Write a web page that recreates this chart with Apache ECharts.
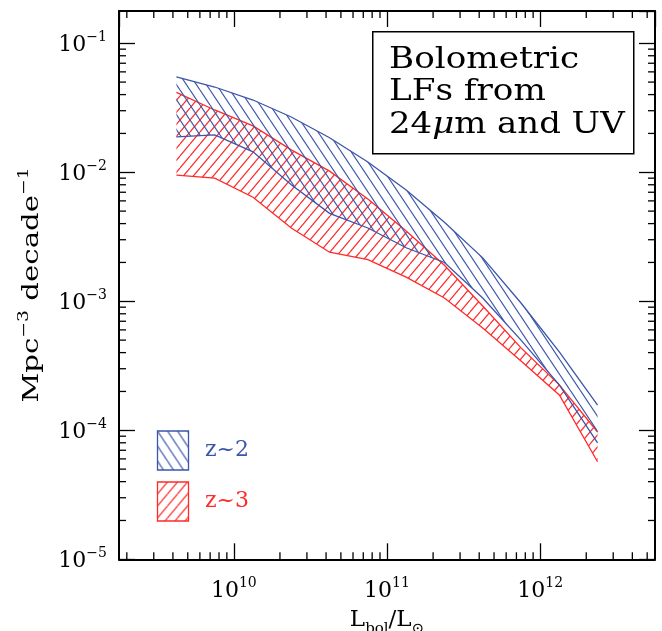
<!DOCTYPE html>
<html><head><meta charset="utf-8">
<script src="https://cdn.jsdelivr.net/npm/echarts@6/dist/echarts.min.js"></script>
<style>html,body{margin:0;padding:0;background:#fff}#c{width:662px;height:631px}</style>
</head><body><div id="c"></div>
<script>
// Bolometric luminosity (L_sun) sample points
const lum = [4.217e9, 7.499e9, 1.334e10, 2.371e10, 4.217e10, 7.499e10, 1.334e11, 2.371e11, 4.217e11, 7.499e11, 1.334e12, 2.371e12];
// z~2 band (Mpc^-3 decade^-1)
const z2Upper = [0.0548, 0.0458, 0.0363, 0.0268, 0.0185, 0.0120, 0.0073, 0.0041, 0.00217, 0.00097, 0.000405, 0.000157];
const z2Lower = [0.0188, 0.0195, 0.0144, 0.0080, 0.0048, 0.0037, 0.0026, 0.0020, 0.00106, 0.00050, 0.000225, 0.00008];
// z~3 band
const z3Upper = [0.0416, 0.0304, 0.0229, 0.0149, 0.0102, 0.0062, 0.0035, 0.0019, 0.00092, 0.000435, 0.000225, 0.000097];
const z3Lower = [0.0095, 0.0090, 0.0064, 0.0037, 0.0024, 0.0021, 0.00154, 0.00106, 0.00062, 0.000344, 0.000188, 0.000057];
const seriesNames = ['z~2', 'z~3'];
const noteLines = ['Bolometric', 'LFs from', '24{m|\u03bc}m and UV'];
const xTitle = '{t|L}{u|bol}{t|/L}{u|\u2299}';
const yTitle = '{t|Mpc}{s|\u22123}{t| decade}{s|\u22121}';

const XMIN = Math.pow(10, 9.25), XMAX = Math.pow(10, 12.75);
const YMIN = 1e-5, YMAX = Math.pow(10, -0.75);
const BLUE = '#3b55aa', RED = '#ff2a2a';
const SERIF = 'DejaVu Serif';

function makeHatch(color, down, W, H) {
  const c = document.createElement('canvas');
  c.width = W; c.height = H;
  const g = c.getContext('2d');
  g.strokeStyle = color; g.lineWidth = 1.2;
  for (let k = -1; k <= 1; k++) {
    g.beginPath();
    if (down) { g.moveTo(k * W, 0); g.lineTo(k * W + W, H); }
    else { g.moveTo(k * W, H); g.lineTo(k * W + W, 0); }
    g.stroke();
  }
  return c;
}
const blueHatch = makeHatch(BLUE, true, 10, 15);
const redHatch = makeHatch(RED, false, 10, 12);

// minor ticks (2..9 x 10^k)
const minorData = [];
for (let k = 9; k <= 12; k++) for (let m = 2; m <= 9; m++) {
  const v = m * Math.pow(10, k);
  if (v > XMIN && v < XMAX) minorData.push([v, YMIN, 0]);
}
for (let k = -5; k <= -1; k++) for (let m = 2; m <= 9; m++) {
  const v = m * Math.pow(10, k);
  if (v > YMIN && v < YMAX) minorData.push([XMIN, v, 1]);
}

function bandSeries(name, upper, lower, color, hatch, z) {
  return {
    type: 'custom', name: name, coordinateSystem: 'cartesian2d', z: z,
    data: [[lum[0], upper[0]]],
    renderItem: function (params, api) {
      const up = lum.map((x, i) => api.coord([x, upper[i]]));
      const lo = lum.map((x, i) => api.coord([x, lower[i]]));
      const poly = up.concat(lo.slice().reverse());
      return {
        type: 'group', children: [
          { type: 'polygon', shape: { points: poly }, style: { fill: { image: hatch, repeat: 'repeat' }, stroke: null } },
          { type: 'polyline', shape: { points: up }, style: { stroke: color, lineWidth: 1.3, fill: null } },
          { type: 'polyline', shape: { points: lo }, style: { stroke: color, lineWidth: 1.3, fill: null } }
        ]
      };
    }
  };
}

function powLabel(v) {
  const e = Math.log10(v), r = Math.round(e);
  if (Math.abs(e - r) > 1e-6) return '';
  return '{b|10}{s|' + (r < 0 ? '\u2212' + (-r) : r) + '}';
}
const labRich = {
  b: { fontFamily: SERIF, fontSize: 22, color: '#000', lineHeight: 26, verticalAlign: 'bottom' },
  s: { fontFamily: SERIF, fontSize: 14, color: '#000', lineHeight: 11, verticalAlign: 'top' }
};
const axisCommon = {
  type: 'log', logBase: 10,
  axisLine: { show: true, lineStyle: { color: '#000', width: 2 } },
  axisTick: { show: true, inside: true, length: 16, lineStyle: { color: '#000', width: 1.3 } },
  splitLine: { show: false }, minorTick: { show: false }
};

const chart = echarts.init(document.getElementById('c'), null, { renderer: 'canvas' });
chart.setOption({
  animation: false,
  backgroundColor: '#fff',
  grid: { left: 119, right: 7, top: 11, bottom: 71.7, containLabel: false, outerBoundsMode: 'none' },
  xAxis: [
    Object.assign({}, axisCommon, {
      min: XMIN, max: XMAX, position: 'bottom',
      axisLabel: { formatter: powLabel, rich: labRich, margin: 17, showMinLabel: false, showMaxLabel: false },
      name: xTitle, nameLocation: 'middle', nameGap: 49,
      nameTextStyle: { rich: {
        t: { fontFamily: SERIF, fontSize: 23, color: '#000', lineHeight: 28, verticalAlign: 'top' },
        u: { fontFamily: SERIF, fontSize: 15, color: '#000', lineHeight: 14, verticalAlign: 'bottom' }
      } }
    }),
    Object.assign({}, axisCommon, { min: XMIN, max: XMAX, position: 'top', axisLabel: { show: false } })
  ],
  yAxis: [
    Object.assign({}, axisCommon, {
      min: YMIN, max: YMAX, position: 'left',
      axisLabel: { formatter: powLabel, rich: labRich, margin: 12, showMinLabel: true, showMaxLabel: false }
    }),
    Object.assign({}, axisCommon, { min: YMIN, max: YMAX, position: 'right', axisLabel: { show: false } })
  ],
  series: [
    bandSeries(seriesNames[1], z3Upper, z3Lower, RED, redHatch, 2),
    bandSeries(seriesNames[0], z2Upper, z2Lower, BLUE, blueHatch, 3),
    {
      type: 'custom', coordinateSystem: 'cartesian2d', z: 5, data: minorData, silent: true,
      renderItem: function (params, api) {
        const kind = api.value(2);
        if (kind === 0) {
          const v = api.value(0);
          const b = api.coord([v, YMIN]), t = api.coord([v, YMAX]);
          return { type: 'group', children: [
            { type: 'line', shape: { x1: b[0], y1: b[1], x2: b[0], y2: b[1] - 7 }, style: { stroke: '#000', lineWidth: 1.3 } },
            { type: 'line', shape: { x1: t[0], y1: t[1], x2: t[0], y2: t[1] + 7 }, style: { stroke: '#000', lineWidth: 1.3 } }
          ] };
        } else {
          const v = api.value(1);
          const l = api.coord([XMIN, v]), r = api.coord([XMAX, v]);
          return { type: 'group', children: [
            { type: 'line', shape: { x1: l[0], y1: l[1], x2: l[0] + 7, y2: l[1] }, style: { stroke: '#000', lineWidth: 1.3 } },
            { type: 'line', shape: { x1: r[0], y1: r[1], x2: r[0] - 7, y2: r[1] }, style: { stroke: '#000', lineWidth: 1.3 } }
          ] };
        }
      }
    }
  ],
  graphic: [
    { type: 'rect', left: 372, top: 31, shape: { width: 261, height: 122 }, style: { fill: '#fff', stroke: '#000', lineWidth: 1.5 }, z: 10 },
    { type: 'text', x: 389, y: 60, scaleX: 1.14, style: { text: noteLines[0], font: '30px "DejaVu Serif"', fill: '#000', verticalAlign: 'middle' }, z: 11 },
    { type: 'text', x: 389, y: 92, scaleX: 1.14, style: { text: noteLines[1], font: '30px "DejaVu Serif"', fill: '#000', verticalAlign: 'middle' }, z: 11 },
    { type: 'text', x: 389, y: 125, scaleX: 1.13, style: { text: noteLines[2], font: '30px "DejaVu Serif"', fill: '#000', verticalAlign: 'middle',
      rich: { m: { font: 'italic 30px "DejaVu Serif"', fill: '#000' } } }, z: 11 },
    { type: 'text', x: 30, y: 285, rotation: Math.PI / 2, scaleX: 1.33, style: { text: yTitle, align: 'center', verticalAlign: 'middle',
      rich: {
        t: { fontFamily: SERIF, fontSize: 22, fill: '#000', lineHeight: 26, verticalAlign: 'bottom' },
        s: { fontFamily: SERIF, fontSize: 14, fill: '#000', lineHeight: 11, verticalAlign: 'top' }
      } }, z: 11 },
    { type: 'rect', x: 157.5, y: 431, shape: { width: 31, height: 39 }, style: { fill: { image: blueHatch, repeat: 'repeat' }, stroke: BLUE, lineWidth: 1.3 }, z: 10 },
    { type: 'rect', x: 157.5, y: 482, shape: { width: 31, height: 39 }, style: { fill: { image: redHatch, repeat: 'repeat' }, stroke: RED, lineWidth: 1.3 }, z: 10 },
    { type: 'text', x: 205, y: 450, style: { text: seriesNames[0], font: '22px "DejaVu Serif"', fill: BLUE, verticalAlign: 'middle' }, z: 11 },
    { type: 'text', x: 205, y: 501, style: { text: seriesNames[1], font: '22px "DejaVu Serif"', fill: RED, verticalAlign: 'middle' }, z: 11 }
  ]
});
</script></body></html>
